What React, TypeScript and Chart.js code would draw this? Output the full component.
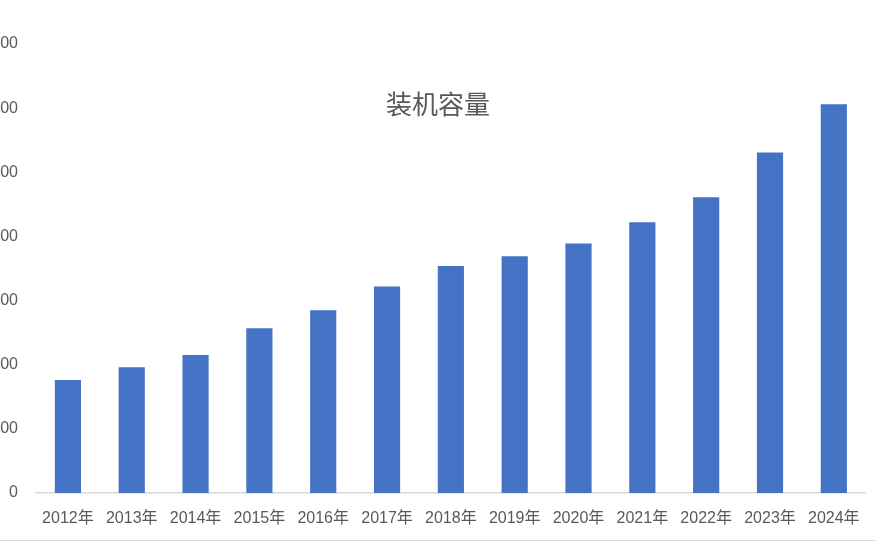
import React, { useEffect, useRef } from "react";
import { Chart, registerables } from "chart.js";

Chart.register(...registerables);

const categories = ["2012年", "2013年", "2014年", "2015年", "2016年", "2017年", "2018年", "2019年", "2020年", "2021年", "2022年", "2023年", "2024年"];
const capacity = [176, 196, 215, 257, 285, 322, 354, 369, 389, 422, 461, 531, 606];
const titleText = "装机容量";
const yMin = 0;
const yMax = 700;
const yStep = 100;

const SHIFT = 40;
const FONT = '"Liberation Sans", "Noto Sans CJK SC", sans-serif';

export default function App() {
  const ref = useRef<HTMLCanvasElement | null>(null);
  useEffect(() => {
    if (!ref.current) return;
    const titlePlugin = {
      id: "overlayTitle",
      afterDraw(chart: any) {
        const ctx = chart.ctx;
        ctx.save();
        ctx.font = '26px "Noto Sans CJK SC", sans-serif';
        ctx.fillStyle = "#595959";
        ctx.textAlign = "center";
        ctx.textBaseline = "middle";
        ctx.fillText(titleText, 438 + SHIFT, 104);
        ctx.restore();
      },
    };
    const chart = new Chart(ref.current, {
      type: "bar",
      data: {
        labels: categories,
        datasets: [
          {
            label: titleText,
            data: capacity,
            backgroundColor: "#4472C4",
            borderWidth: 0,
            categoryPercentage: 1,
            barPercentage: 0.41,
          },
        ],
      },
      options: {
        animation: false,
        responsive: false,
        maintainAspectRatio: false,
        layout: { padding: { top: 44, right: 10, left: 0, bottom: 0 } },
        plugins: {
          legend: { display: false },
          title: { display: false },
          tooltip: { enabled: false },
        },
        scales: {
          x: {
            grid: { display: false, drawTicks: false },
            border: { display: true, color: "#d9d9d9", width: 1.5 },
            ticks: {
              color: "#595959",
              font: { family: FONT, size: 16 },
              padding: 16,
              maxRotation: 0,
              autoSkip: false,
            },
            afterFit: (scale: any) => {
              scale.height = 47;
            },
          },
          y: {
            min: yMin,
            max: yMax,
            grid: { display: false, drawTicks: false },
            border: { display: false },
            ticks: {
              stepSize: yStep,
              color: "#595959",
              font: { family: FONT, size: 16 },
              padding: 18,
            },
            afterFit: (scale: any) => {
              scale.width = 36 + SHIFT;
            },
          },
        },
      },
      plugins: [titlePlugin],
    });
    return () => chart.destroy();
  }, []);

  return (
    <div
      style={{
        position: "fixed",
        left: 0,
        top: 0,
        width: 876,
        height: 540,
        overflow: "hidden",
        background: "#ffffff",
        borderBottom: "1px solid #d9d9d9",
      }}
    >
      <canvas
        ref={ref}
        width={876 + SHIFT}
        height={540}
        style={{ position: "absolute", left: -SHIFT, top: 0, width: 876 + SHIFT, height: 540 }}
      />
    </div>
  );
}
